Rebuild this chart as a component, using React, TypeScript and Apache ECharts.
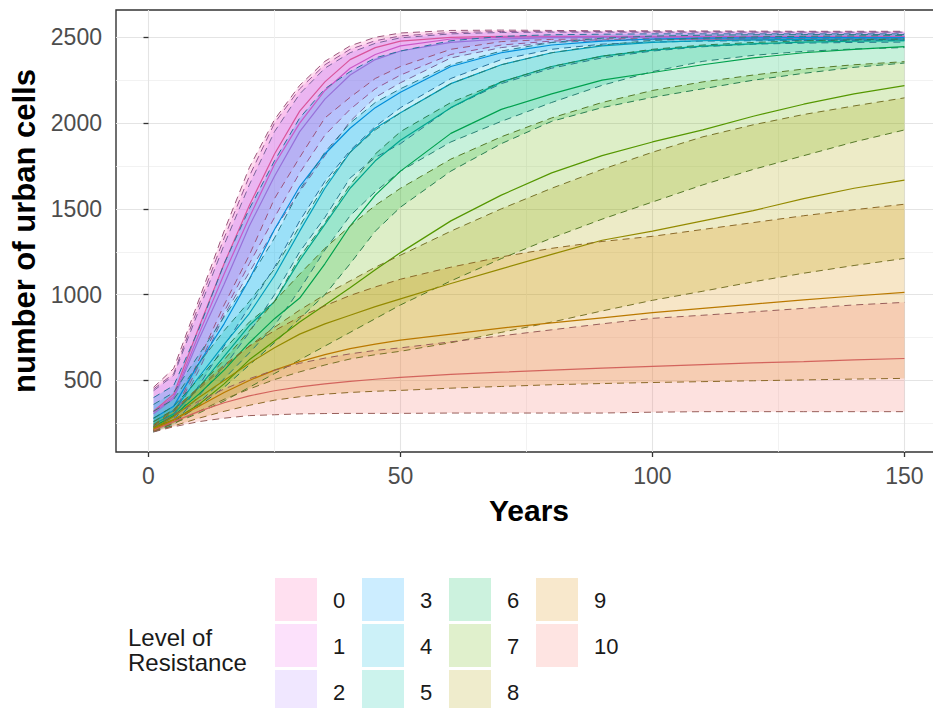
import React, { useEffect, useRef } from "react";
import * as echarts from "echarts";

// Sampled simulation years
const years = [1, 5, 10, 15, 20, 25, 30, 35, 40, 45, 50, 60, 70, 80, 90, 100, 110, 120, 130, 140, 150];

const levelNames = ["0", "1", "2", "3", "4", "5", "6", "7", "8", "9", "10"];
const levelColors = [
  "#FF63B6", "#EF67EB", "#B385FF", "#00A6FF", "#00BADE", "#00C1A7",
  "#00BD5C", "#64B200", "#AEA200", "#DB8E00", "#F8766D",
];

// Resistance level 0
const lvl0Upper = [460, 570, 970, 1370, 1740, 2020, 2220, 2360, 2450, 2500, 2525, 2540, 2542, 2540, 2538, 2538, 2537, 2536, 2535, 2535, 2535];
const lvl0Median = [320, 420, 810, 1180, 1520, 1820, 2070, 2240, 2370, 2440, 2478, 2500, 2506, 2506, 2506, 2505, 2505, 2505, 2505, 2505, 2505];
const lvl0Lower = [215, 300, 620, 940, 1230, 1560, 1800, 2030, 2150, 2260, 2330, 2430, 2475, 2488, 2491, 2492, 2492, 2492, 2492, 2492, 2492];
// Resistance level 1
const lvl1Upper = [450, 540, 940, 1330, 1690, 2000, 2200, 2340, 2430, 2480, 2508, 2528, 2534, 2535, 2534, 2533, 2533, 2532, 2532, 2531, 2531];
const lvl1Median = [315, 405, 770, 1120, 1450, 1760, 2000, 2190, 2320, 2400, 2450, 2490, 2500, 2502, 2502, 2502, 2502, 2502, 2502, 2502, 2502];
const lvl1Lower = [212, 290, 590, 900, 1180, 1450, 1710, 1930, 2080, 2200, 2280, 2400, 2455, 2478, 2485, 2488, 2489, 2489, 2489, 2489, 2489];
// Resistance level 2
const lvl2Upper = [440, 530, 910, 1290, 1640, 1950, 2170, 2320, 2410, 2465, 2497, 2520, 2528, 2530, 2530, 2530, 2530, 2530, 2530, 2530, 2530];
const lvl2Median = [305, 395, 740, 1060, 1400, 1690, 1950, 2140, 2280, 2370, 2420, 2470, 2490, 2498, 2500, 2500, 2500, 2500, 2500, 2500, 2500];
const lvl2Lower = [208, 275, 560, 880, 1130, 1380, 1600, 1810, 2010, 2150, 2235, 2380, 2440, 2470, 2480, 2485, 2486, 2486, 2486, 2486, 2486];
// Resistance level 3
const lvl3Upper = [400, 470, 800, 1180, 1500, 1780, 2030, 2200, 2300, 2380, 2420, 2480, 2505, 2515, 2518, 2520, 2520, 2520, 2520, 2520, 2520];
const lvl3Median = [280, 350, 600, 830, 1090, 1380, 1630, 1820, 1970, 2090, 2180, 2330, 2410, 2455, 2478, 2490, 2495, 2497, 2498, 2498, 2498];
const lvl3Lower = [205, 265, 470, 700, 930, 1160, 1430, 1660, 1840, 1980, 2090, 2260, 2370, 2430, 2460, 2472, 2478, 2480, 2481, 2482, 2482];
// Resistance level 4
const lvl4Upper = [360, 430, 650, 870, 1090, 1330, 1610, 1830, 2000, 2120, 2200, 2340, 2420, 2470, 2495, 2507, 2512, 2515, 2516, 2516, 2516];
const lvl4Median = [260, 325, 520, 710, 890, 1110, 1370, 1620, 1830, 1970, 2060, 2230, 2340, 2410, 2450, 2470, 2480, 2485, 2488, 2490, 2490];
const lvl4Lower = [200, 250, 410, 580, 780, 1000, 1250, 1450, 1680, 1800, 1880, 2090, 2230, 2320, 2380, 2420, 2445, 2460, 2466, 2470, 2472];
// Resistance level 5
const lvl5Upper = [320, 390, 600, 790, 960, 1150, 1400, 1640, 1830, 1960, 2060, 2230, 2340, 2410, 2455, 2482, 2496, 2502, 2506, 2508, 2510];
const lvl5Median = [245, 305, 460, 640, 820, 960, 1200, 1410, 1620, 1780, 1900, 2090, 2240, 2330, 2390, 2425, 2448, 2462, 2472, 2477, 2480];
const lvl5Lower = [200, 240, 370, 510, 660, 820, 1030, 1260, 1460, 1600, 1720, 1890, 2010, 2120, 2220, 2300, 2360, 2395, 2418, 2432, 2440];
// Resistance level 6
const lvl6Upper = [280, 350, 510, 680, 840, 960, 1220, 1420, 1640, 1820, 1950, 2120, 2240, 2330, 2390, 2430, 2455, 2470, 2480, 2485, 2490];
const lvl6Median = [230, 295, 420, 560, 720, 860, 980, 1180, 1400, 1580, 1720, 1940, 2080, 2170, 2250, 2295, 2340, 2380, 2410, 2430, 2446];
const lvl6Lower = [210, 260, 350, 460, 590, 720, 860, 1000, 1180, 1370, 1510, 1720, 1880, 2010, 2090, 2150, 2200, 2250, 2290, 2325, 2350];
// Resistance level 7
const lvl7Upper = [260, 330, 460, 620, 790, 960, 1120, 1270, 1400, 1520, 1620, 1790, 1920, 2030, 2120, 2190, 2240, 2280, 2315, 2340, 2358];
const lvl7Median = [225, 270, 360, 480, 620, 730, 840, 940, 1040, 1145, 1245, 1430, 1580, 1710, 1810, 1890, 1960, 2040, 2110, 2170, 2218];
const lvl7Lower = [210, 250, 310, 380, 460, 540, 620, 700, 780, 860, 940, 1080, 1210, 1330, 1440, 1540, 1640, 1730, 1810, 1890, 1960];
// Resistance level 8
const lvl8Upper = [235, 320, 450, 580, 700, 810, 910, 1000, 1080, 1160, 1230, 1370, 1500, 1620, 1730, 1830, 1920, 1990, 2050, 2100, 2147];
const lvl8Median = [220, 290, 400, 500, 600, 690, 770, 830, 880, 930, 975, 1065, 1150, 1235, 1317, 1370, 1430, 1490, 1560, 1620, 1668];
const lvl8Lower = [205, 250, 320, 390, 450, 505, 550, 590, 625, 650, 670, 720, 780, 840, 905, 967, 1020, 1075, 1125, 1170, 1211];
// Resistance level 9
const lvl9Upper = [240, 330, 460, 590, 700, 790, 870, 935, 995, 1045, 1090, 1160, 1220, 1270, 1310, 1340, 1380, 1420, 1460, 1495, 1527];
const lvl9Median = [215, 270, 350, 430, 500, 560, 610, 650, 685, 712, 735, 770, 805, 835, 865, 895, 920, 945, 970, 992, 1013];
const lvl9Lower = [205, 235, 280, 320, 355, 385, 405, 420, 430, 437, 442, 455, 465, 475, 482, 488, 493, 498, 503, 508, 512];
// Resistance level 10
const lvl10Upper = [230, 300, 380, 450, 510, 560, 600, 630, 655, 675, 690, 725, 760, 795, 830, 862, 880, 900, 920, 940, 955];
const lvl10Median = [210, 260, 320, 370, 410, 440, 462, 480, 495, 507, 518, 535, 548, 560, 572, 582, 592, 602, 610, 620, 628];
const lvl10Lower = [200, 230, 260, 280, 295, 300, 305, 307, 308, 308, 308, 310, 310, 310, 310, 315, 318, 318, 318, 318, 318];

const upperSets = [lvl0Upper, lvl1Upper, lvl2Upper, lvl3Upper, lvl4Upper, lvl5Upper, lvl6Upper, lvl7Upper, lvl8Upper, lvl9Upper, lvl10Upper];
const medianSets = [lvl0Median, lvl1Median, lvl2Median, lvl3Median, lvl4Median, lvl5Median, lvl6Median, lvl7Median, lvl8Median, lvl9Median, lvl10Median];
const lowerSets = [lvl0Lower, lvl1Lower, lvl2Lower, lvl3Lower, lvl4Lower, lvl5Lower, lvl6Lower, lvl7Lower, lvl8Lower, lvl9Lower, lvl10Lower];

const xTicks = [0, 50, 100, 150];
const yTicks = [500, 1000, 1500, 2000, 2500];

const FONT = "'Liberation Sans', Arial, Helvetica, sans-serif";
const FILL_ALPHA = 0.22;

function hexToRgb(hex: string): [number, number, number] {
  const h = hex.replace("#", "");
  return [parseInt(h.slice(0, 2), 16), parseInt(h.slice(2, 4), 16), parseInt(h.slice(4, 6), 16)];
}
function withAlpha(hex: string, a: number): string {
  const [r, g, b] = hexToRgb(hex);
  return `rgba(${r},${g},${b},${a})`;
}
function mix(hex: string, other: string, t: number): string {
  const a = hexToRgb(hex);
  const b = hexToRgb(other);
  const c = a.map((v, i) => Math.round(v * (1 - t) + b[i] * t));
  return `rgb(${c[0]},${c[1]},${c[2]})`;
}

// ggplot-style 5% expansion of the data range
function expand(lo: number, hi: number): [number, number] {
  const pad = (hi - lo) * 0.05;
  return [lo - pad, hi + pad];
}

export default function App() {
  const ref = useRef<HTMLDivElement>(null);

  useEffect(() => {
    if (!ref.current) return;
    const chart = echarts.init(ref.current, undefined, { renderer: "svg" });

    const [xMin, xMax] = expand(years[0], years[years.length - 1]);
    const allLow = Math.min(...lowerSets.map((s) => Math.min(...s)));
    const allHigh = Math.max(...upperSets.map((s) => Math.max(...s)));
    const [yMin, yMax] = expand(allLow, allHigh);

    const series: any[] = [];

    // Ribbons (lower..upper) for each level
    levelColors.forEach((color, i) => {
      const lo = lowerSets[i];
      const hi = upperSets[i];
      series.push({
        type: "custom",
        name: levelNames[i],
        silent: true,
        z: 2,
        data: years.map((yr, k) => [yr, lo[k], hi[k]]),
        encode: { x: 0, y: [1, 2] },
        renderItem: (params: any, api: any) => {
          if (params.dataIndex !== 0) return null;
          const top = years.map((yr, k) => api.coord([yr, hi[k]]));
          const bottom = years.map((yr, k) => api.coord([yr, lo[k]])).reverse();
          return {
            type: "polygon",
            shape: { points: top.concat(bottom) },
            style: { fill: withAlpha(color, FILL_ALPHA) },
          };
        },
      });
    });

    // Bound lines (dashed) and medians (solid)
    levelColors.forEach((color, i) => {
      const dash = mix(color, "#4a4a4a", 0.55);
      const mk = (arr: number[], lineStyle: any) => ({
        type: "line",
        silent: true,
        z: 3,
        symbol: "none",
        showSymbol: false,
        data: years.map((yr, k) => [yr, arr[k]]),
        lineStyle,
        emphasis: { disabled: true },
      });
      series.push(mk(lowerSets[i], { color: dash, width: 1, type: [7, 5] }));
      series.push(mk(upperSets[i], { color: dash, width: 1, type: [7, 5] }));
      series.push(mk(medianSets[i], { color: mix(color, "#000000", 0.15), width: 1.2, type: "solid" }));
    });

    // Legend built from the level names and colours
    const legendItems: any[] = [
      {
        type: "text",
        x: 128,
        y: 650,
        style: {
          text: "Level of\nResistance",
          fontSize: 24,
          lineHeight: 25,
          fontFamily: FONT,
          fill: "#1a1a1a",
          verticalAlign: "middle",
          align: "left",
        },
      },
    ];
    levelNames.forEach((name, i) => {
      const col = Math.floor(i / 3);
      const row = i % 3;
      const kx = 275 + col * 87;
      const ky = 578 + row * 46;
      legendItems.push({
        type: "rect",
        shape: { x: kx, y: ky, width: 42, height: 43 },
        style: { fill: withAlpha(levelColors[i], 0.2) },
      });
      legendItems.push({
        type: "text",
        x: kx + 58,
        y: ky + 22,
        style: {
          text: name,
          fontSize: 22,
          fontFamily: FONT,
          fill: "#1a1a1a",
          verticalAlign: "middle",
          align: "left",
        },
      });
    });

    chart.setOption({
      animation: false,
      backgroundColor: "#ffffff",
      grid: {
        left: 116,
        top: 10,
        width: 826,
        height: 442,
        show: true,
        borderColor: "#333333",
        borderWidth: 1.4,
        backgroundColor: "transparent",
        containLabel: false,
      },
      xAxis: {
        type: "value",
        min: xMin,
        max: xMax,
        splitNumber: 3,
        name: "Years",
        nameLocation: "middle",
        nameGap: 43,
        nameTextStyle: { fontFamily: FONT, fontSize: 30, fontWeight: "bold", color: "#000000" },
        axisLine: { show: false },
        axisTick: { show: true, length: 5, customValues: xTicks, lineStyle: { color: "#333333", width: 1.3 } },
        axisLabel: {
          customValues: xTicks,
          fontFamily: FONT,
          fontSize: 23,
          color: "#4d4d4d",
          margin: 12,
          formatter: (v: number) => String(v),
        },
        splitLine: { show: true, lineStyle: { color: "#e4e4e4", width: 1.1 } },
        minorTick: { show: false, splitNumber: 2 },
        minorSplitLine: { show: true, lineStyle: { color: "#efefef", width: 0.8 } },
      },
      yAxis: {
        type: "value",
        min: yMin,
        max: yMax,
        splitNumber: 5,
        name: "number of urban cells",
        nameLocation: "middle",
        nameRotate: 90,
        nameGap: 72,
        nameTextStyle: { fontFamily: FONT, fontSize: 31, fontWeight: "bold", color: "#000000" },
        axisLine: { show: false },
        axisTick: { show: true, length: 5, customValues: yTicks, lineStyle: { color: "#333333", width: 1.3 } },
        axisLabel: {
          customValues: yTicks,
          fontFamily: FONT,
          fontSize: 23,
          color: "#4d4d4d",
          margin: 14,
          formatter: (v: number) => String(v),
        },
        splitLine: { show: true, lineStyle: { color: "#e4e4e4", width: 1.1 } },
        minorTick: { show: false, splitNumber: 2 },
        minorSplitLine: { show: true, lineStyle: { color: "#efefef", width: 0.8 } },
      },
      graphic: { elements: legendItems },
      series,
    });

    return () => chart.dispose();
  }, []);

  return (
    <div
      style={{
        position: "fixed",
        left: 0,
        top: 0,
        width: 933,
        height: 708,
        overflow: "hidden",
        background: "#ffffff",
      }}
    >
      <div ref={ref} style={{ width: 960, height: 708 }} />
    </div>
  );
}
